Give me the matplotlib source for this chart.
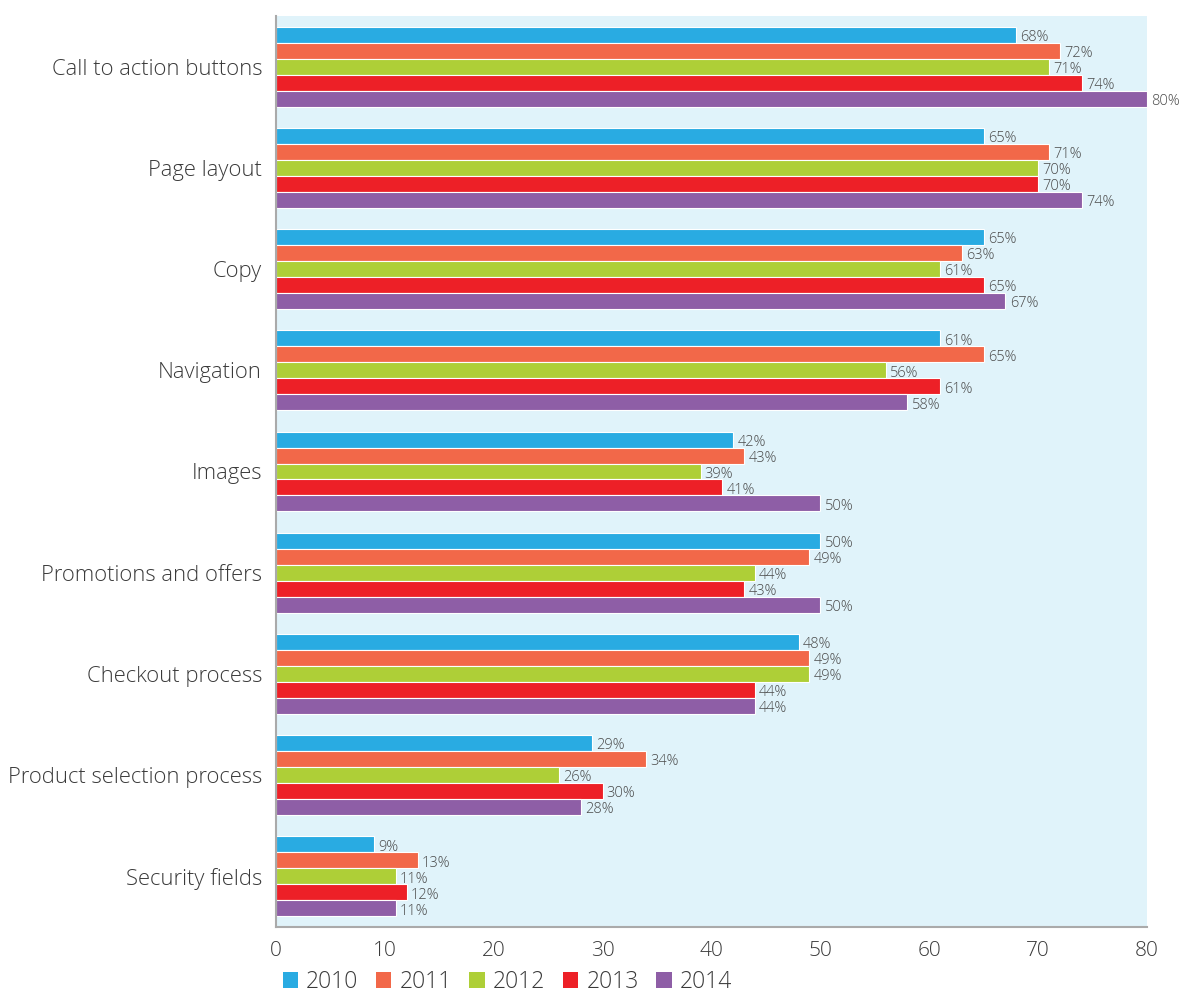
import matplotlib
matplotlib.use("Agg")
import matplotlib.pyplot as plt
from matplotlib.patches import Patch
import numpy as np

plt.rcParams['font.family'] = ['Open Sans', 'DejaVu Sans']
plt.rcParams['font.weight'] = 300

categories = [
    "Call to action buttons",
    "Page layout",
    "Copy",
    "Navigation",
    "Images",
    "Promotions and offers",
    "Checkout process",
    "Product selection process",
    "Security fields",
]
years = ["2010", "2011", "2012", "2013", "2014"]
values_2010 = [68, 65, 65, 61, 42, 50, 48, 29, 9]
values_2011 = [72, 71, 63, 65, 43, 49, 49, 34, 13]
values_2012 = [71, 70, 61, 56, 39, 44, 49, 26, 11]
values_2013 = [74, 70, 65, 61, 41, 43, 44, 30, 12]
values_2014 = [80, 74, 67, 58, 50, 50, 44, 28, 11]
series = [values_2010, values_2011, values_2012, values_2013, values_2014]
colors = ["#29ABE2", "#F26849", "#AECF37", "#ED2027", "#8E5EA6"]
x_ticks = [0, 10, 20, 30, 40, 50, 60, 70, 80]

text_color = "#3A3A3A"
fig = plt.figure(figsize=(11.81, 9.94), dpi=100)
ax = fig.add_axes([276 / 1181, 1 - 927 / 994, 871 / 1181, 911 / 994])
ax.set_facecolor("#E0F3FA")

bar_h = 0.158
y = np.arange(len(categories))
for j, (vals, col) in enumerate(zip(series, colors)):
    pos = y + (j - 2) * bar_h
    ax.barh(pos, vals, height=bar_h, color=col, edgecolor="white", linewidth=0.8, zorder=2)
    for p, v in zip(pos, vals):
        ax.annotate(f"{v}%", xy=(v, p), xytext=(3, -2), textcoords="offset points",
                    ha="left", va="center", fontsize=10.5, color="#4A4A4A",
                    annotation_clip=False, zorder=3)

ax.set_xlim(0, 80)
ax.set_ylim(len(categories) - 0.5, -0.5)
ax.set_xticks(x_ticks)
ax.set_xticklabels([str(t) for t in x_ticks], fontsize=15, color=text_color)
ax.set_yticks(y)
ax.set_yticklabels(categories, fontsize=15.8, color=text_color)
ax.tick_params(axis="both", length=0)
ax.tick_params(axis="x", pad=10)
ax.tick_params(axis="y", pad=10)

for side in ("top", "right"):
    ax.spines[side].set_visible(False)
for side in ("left", "bottom"):
    ax.spines[side].set_color("#AAAAAA")
    ax.spines[side].set_linewidth(1.5)

handles = [Patch(facecolor=c, edgecolor="none", label=yr) for c, yr in zip(colors, years)]
fig.legend(handles=handles, loc="center left", bbox_to_anchor=(262 / 1181, 1 - 982 / 994),
           ncol=5, frameon=False, fontsize=16.5, handlelength=0.68, handleheight=0.68,
           handletextpad=0.35, columnspacing=0.76, labelcolor=text_color)

fig.savefig("out.png", dpi=100)
